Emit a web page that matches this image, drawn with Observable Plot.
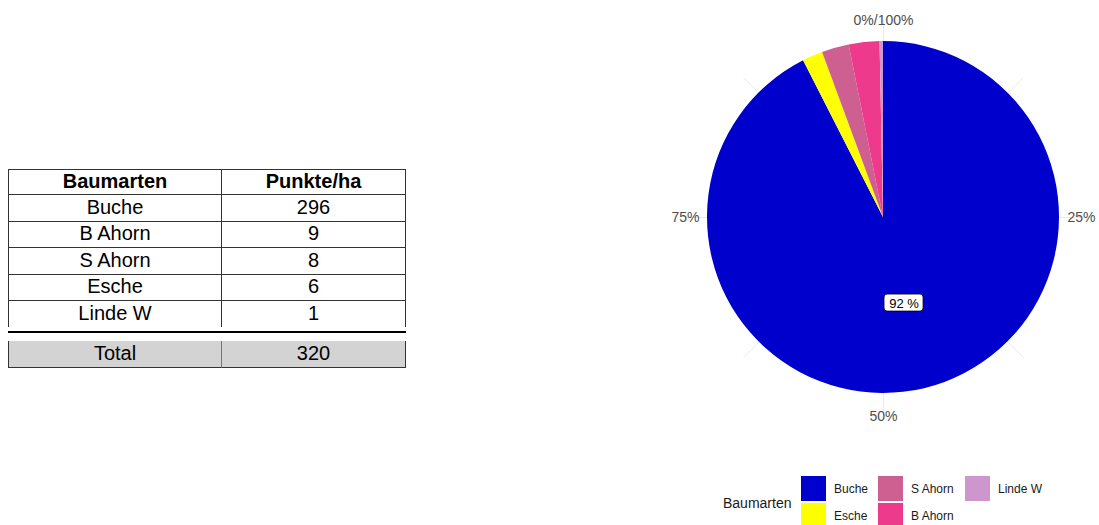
<!DOCTYPE html>
<html><head><meta charset="utf-8">
<script src="https://cdn.jsdelivr.net/npm/d3@7"></script>
<script src="https://cdn.jsdelivr.net/npm/@observablehq/plot@0.6"></script>
<style>
body{margin:0;width:1099px;height:525px;overflow:hidden;background:#fff;font-family:"Liberation Sans",Arial,sans-serif;position:relative}
#chart{position:absolute;left:0;top:0}
.cell{position:absolute;display:flex;align-items:center;justify-content:center;font-size:20px;color:#000;box-sizing:border-box;line-height:1;padding-bottom:2px}
.lg{position:absolute;font-size:12px;color:#1a1a1a;display:flex;align-items:center;line-height:1}
</style></head><body>
<div id="chart"></div>
<div id="table"></div>
<div id="legend"></div>
<script>
// ---- data ----
const tableSpecies = ["Buche", "B Ahorn", "S Ahorn", "Esche", "Linde W"];
const tablePoints = [296, 9, 8, 6, 1];
const totalLabel = "Total";
const totalPoints = 320;
const headers = ["Baumarten", "Punkte/ha"];

const pieSpecies = ["Buche", "Esche", "S Ahorn", "B Ahorn", "Linde W"];
const pieColors = ["#0000CD", "#FFFF00", "#CD6090", "#EE3A8C", "#CD96CD"];
const thetaTicks = ["0%/100%", "25%", "50%", "75%"];
const sliceLabels = [{name: "Buche", text: "92 %"}];
const legendTitle = "Baumarten";

// ---- pie ----
const valueOf = new Map(tableSpecies.map((s, i) => [s, tablePoints[i]]));
const pieData = pieSpecies.map(name => ({name, value: valueOf.get(name)}));
const arcs = d3.pie().sort(null).value(d => d.value)(pieData);
const arcByName = new Map(arcs.map(a => [a.data.name, a]));

const W = 1099, H = 525, CX = 883, CY = 217, R = 176;
const grid = d3.range(8).map(i => {
  const a = i * Math.PI / 4;
  return {x2: 1.125 * Math.sin(a), y2: 1.125 * Math.cos(a)};
});
const labelPos = sliceLabels.map(l => {
  const a = arcByName.get(l.name);
  const mid = (a.startAngle + a.endAngle) / 2;
  return {...l, x: 0.5 * Math.sin(mid), y: 0.5 * Math.cos(mid)};
});

const tickSpecs = [
  {x: 0, y: 1.095, textAnchor: "middle", lineAnchor: "bottom"},
  {x: 1.045, y: 0, textAnchor: "start", lineAnchor: "middle"},
  {x: 0, y: -1.1, textAnchor: "middle", lineAnchor: "top"},
  {x: -1.045, y: 0, textAnchor: "end", lineAnchor: "middle"}
];

function pieMark(index, scales) {
  const x0 = scales.x(0), y0 = scales.y(0), r = scales.x(1) - scales.x(0);
  const g = d3.create("svg:g").attr("transform", `translate(${x0},${y0})`);
  const arc = d3.arc().innerRadius(0).outerRadius(r);
  g.selectAll("path").data(arcs).join("path")
    .attr("d", arc)
    .attr("fill", d => scales.color(d.data.name));
  return g.node();
}
function labelBoxes(index, scales) {
  const g = d3.create("svg:g");
  labelPos.forEach(l => {
    const px = scales.x(l.x), py = scales.y(l.y);
    g.append("rect").attr("x", px - 19.5).attr("y", py - 8.5).attr("width", 39).attr("height", 17)
      .attr("rx", 3).attr("fill", "#fff").attr("stroke", "#000").attr("stroke-width", 0.8);
  });
  return g.node();
}

const chart = Plot.plot({
  width: W, height: H,
  margin: 0,
  x: {domain: [-CX / R, (W - CX) / R], axis: null},
  y: {domain: [-(H - CY) / R, CY / R], axis: null},
  color: {domain: pieSpecies, range: pieColors},
  style: {fontFamily: "Liberation Sans, Arial, sans-serif", background: "transparent"},
  marks: [
    Plot.link(grid, {x1: 0, y1: 0, x2: "x2", y2: "y2", stroke: "#EBEBEB", strokeWidth: 1}),
    pieMark,
    ...thetaTicks.map((t, i) => Plot.text([t], {
      x: () => tickSpecs[i].x, y: () => tickSpecs[i].y, text: d => d,
      textAnchor: tickSpecs[i].textAnchor, lineAnchor: tickSpecs[i].lineAnchor,
      fontSize: 14, fill: "#4D4D4D"
    })),
    labelBoxes,
    Plot.text(labelPos, {x: "x", y: "y", text: "text", fontSize: 13, fill: "#000", dy: 0.5})
  ]
});
document.getElementById("chart").append(chart);

// ---- table ----
const tbl = d3.select("#table");
const colX = [8, 221, 406];
const rowTop = 169, rowH = 26.4;
const bc = "1px solid #333";
function cell(text, x0, x1, y0, h, styles) {
  const d = tbl.append("div").attr("class", "cell")
    .style("left", x0 + "px").style("top", y0 + "px")
    .style("width", (x1 - x0) + "px").style("height", h + "px").text(text);
  Object.entries(styles || {}).forEach(([k, v]) => d.style(k, v));
  return d;
}
headers.forEach((h, j) => cell(h, colX[j], colX[j + 1], rowTop, rowH, {
  "font-weight": "bold", "border-top": bc, "border-bottom": bc,
  "border-left": bc, "border-right": j === 1 ? bc : "none"
}));
tableSpecies.forEach((s, i) => {
  const y = rowTop + rowH * (i + 1);
  const last = i === tableSpecies.length - 1;
  [s, String(tablePoints[i])].forEach((t, j) => cell(t, colX[j], colX[j + 1], y, rowH, {
    "border-bottom": last ? "none" : bc,
    "border-left": bc, "border-right": j === 1 ? bc : "none"
  }));
});
tbl.append("div").style("position", "absolute").style("left", "8px").style("top", "331px")
  .style("width", "398px").style("height", "2px").style("background", "#000");
[totalLabel, String(totalPoints)].forEach((t, j) => cell(t, colX[j], colX[j + 1], 341, 26.5, {
  "background": "#D3D3D3", "border-bottom": bc,
  "border-left": j === 0 ? bc : "1px solid #777",
  "border-right": j === 1 ? bc : "none"
}));

// ---- legend ----
const lg = d3.select("#legend");
lg.append("div").attr("class", "lg").style("left", "723px").style("top", "494px")
  .style("font-size", "14px").style("height", "18px").text(legendTitle);
const colLeft = [801, 878, 965];
pieSpecies.forEach((s, i) => {
  const col = Math.floor(i / 2), row = i % 2;
  const x = colLeft[col], y = 476 + row * 27;
  lg.append("div").style("position", "absolute").style("left", x + "px").style("top", y + "px")
    .style("width", "25px").style("height", "25px").style("background", pieColors[i]);
  lg.append("div").attr("class", "lg").style("left", (x + 33) + "px").style("top", y + "px")
    .style("height", "25px").text(s);
});
</script>
</body></html>
